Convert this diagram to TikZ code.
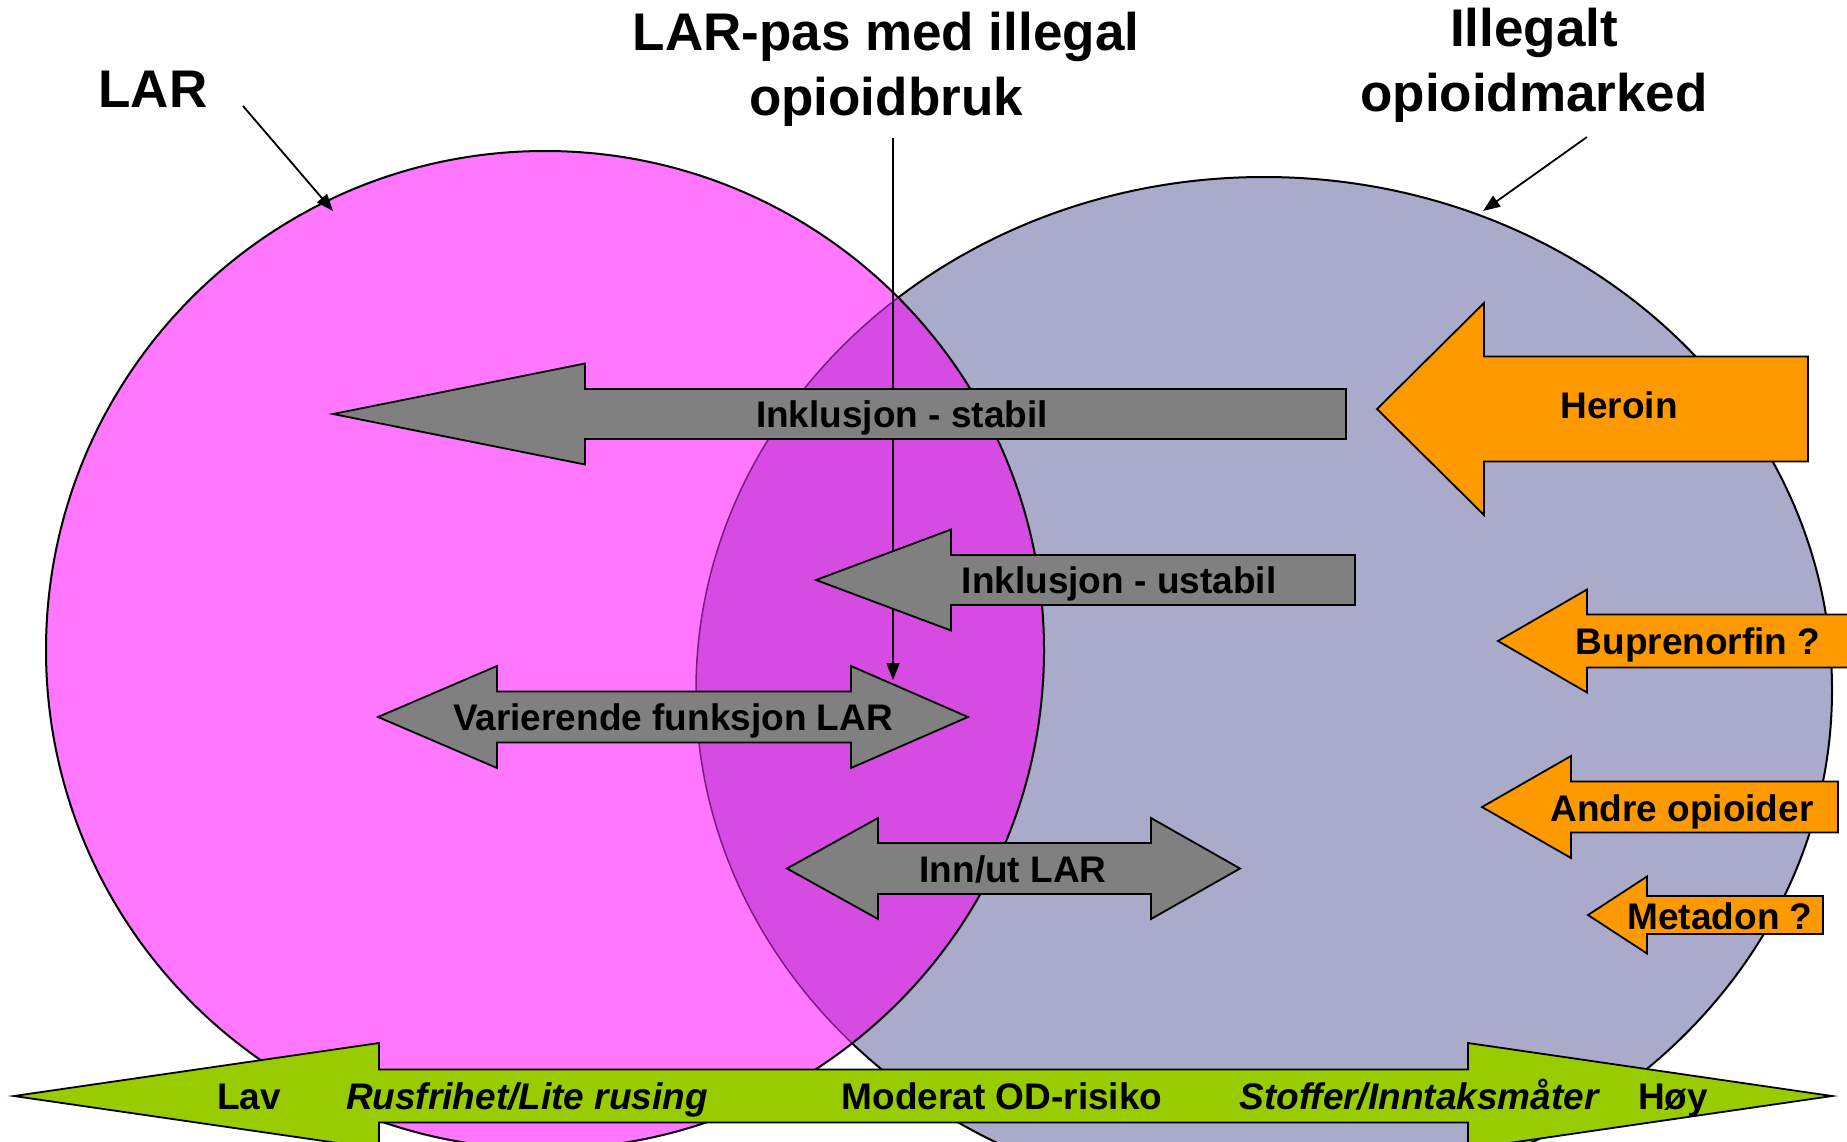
\documentclass[tikz,border=0pt]{standalone}
\usepackage{fontspec}
\setmainfont{Liberation Sans}
\usetikzlibrary{arrows.meta}

\definecolor{larpink}{HTML}{FF77FF}
\definecolor{marketgray}{HTML}{AAAACA}
\definecolor{overlapviolet}{HTML}{D64BE2}
\definecolor{overlapedge}{HTML}{7B1B86}
\definecolor{arrowgray}{HTML}{808080}
\definecolor{opioidorange}{HTML}{FF9900}
\definecolor{riskgreen}{HTML}{99CC00}

\tikzset{
  blockbase/.style={draw=black, line width=1.8pt, line join=miter},
  grayblock/.style={blockbase, fill=arrowgray},
  orangeblock/.style={blockbase, fill=opioidorange},
  greenblock/.style={blockbase, fill=riskgreen},
  lbl/.style={font=\fontsize{37}{44}\selectfont\bfseries, anchor=base, inner sep=0pt},
  lblit/.style={lbl, font=\fontsize{37}{44}\selectfont\bfseries\itshape},
  headline/.style={font=\fontsize{53}{65}\selectfont\bfseries, align=center, inner sep=0pt},
  pointer/.style={line width=1.8pt, -{Triangle[length=17pt,width=13pt]}},
}

% left-pointing block arrow: style, tip x, axis y, head back x, head half height, shaft half height, tail x
\newcommand{\leftblock}[7]{%
  \draw[#1] ({#2},{#3}) -- ({#4},{#3-#5}) -- ({#4},{#3-#6}) -- ({#7},{#3-#6})
    -- ({#7},{#3+#6}) -- ({#4},{#3+#6}) -- ({#4},{#3+#5}) -- cycle;}
% two-headed block arrow: style, axis y, left tip, left head back, right head back, right tip, head half, shaft half
\newcommand{\twoblock}[8]{%
  \draw[#1] ({#3},{#2}) -- ({#4},{#2-#7}) -- ({#4},{#2-#8}) -- ({#5},{#2-#8})
    -- ({#5},{#2-#7}) -- ({#6},{#2}) -- ({#5},{#2+#7}) -- ({#5},{#2+#8})
    -- ({#4},{#2+#8}) -- ({#4},{#2+#7}) -- cycle;}

\begin{document}
\begin{tikzpicture}[x=1pt, y=-1pt]
\clip (0,0) rectangle (1847,1141);
\fill[white] (0,0) rectangle (1847,1141);

% the two sets
\filldraw[fill=marketgray, draw=black, line width=2pt] (1264,690) ellipse[x radius=568pt, y radius=513pt];
\fill[larpink] (545,650) circle[radius=499pt];
\begin{scope}
  \clip (545,650) circle[radius=499pt];
  \fill[overlapviolet] (1264,690) ellipse[x radius=568pt, y radius=513pt];
  \draw[overlapedge, line width=1.5pt] (1264,690) ellipse[x radius=568pt, y radius=513pt];
\end{scope}
\draw[black, line width=2pt] (545,650) circle[radius=499pt];

% headings
\node[headline, anchor=base] (larT) at (153,107) {LAR};
\node[headline] (midT) at (886,69) {LAR-pas med illegal\\opioidbruk};
\node[headline] (mktT) at (1534,65) {Illegalt\\opioidmarked};

\coordinate (larFrom) at (243,106);
\coordinate (larTo) at (333,211);
\coordinate (midFrom) at (893,138);
\coordinate (midTo) at (893,680);
\coordinate (mktFrom) at (1587,137);
\coordinate (mktTo) at (1483,211);
\draw[pointer] (larFrom) -- (larTo);
\draw[pointer] (mktFrom) -- (mktTo);
\draw[pointer] (midFrom) -- (midTo);

% movements between the sets
\leftblock{grayblock}{333}{414}{585}{50.5}{25}{1346}
\node[lbl] (stabil) at (902,427) {Inklusjon - stabil};

\leftblock{grayblock}{816}{580}{951}{50.5}{25}{1355}
\node[lbl] (ustabil) at (1119,593) {Inklusjon - ustabil};

\twoblock{grayblock}{717}{378}{497}{851}{968}{51}{25.5}
\node[lbl] (varier) at (673,730) {Varierende funksjon LAR};

\twoblock{grayblock}{868.5}{787}{878}{1151}{1240}{50.5}{25.5}
\node[lbl] (innut) at (1013,882) {Inn/ut LAR};

% substances on the illegal market
\leftblock{orangeblock}{1377}{409}{1484}{106}{52.5}{1808}
\node[lbl] (heroin) at (1619,418) {Heroin};

\leftblock{orangeblock}{1498}{641}{1587}{51.5}{26.5}{1870}
\node[lbl] (bupre) at (1698,654) {Buprenorfin ?};

\leftblock{orangeblock}{1482}{807}{1571}{51}{25.5}{1838}
\node[lbl] (andre) at (1682,821) {Andre opioider};

\leftblock{orangeblock}{1588}{915}{1647}{38.5}{19}{1823}
\node[lbl] (metadon) at (1720,929) {Metadon ?};

% overdose risk scale
\twoblock{greenblock}{1096}{14}{379}{1468}{1832}{53}{26.5}
\node[lbl] (lav) at (249,1109) {Lav};
\node[lblit] (rus) at (527,1109) {Rusfrihet/Lite rusing};
\node[lbl] (mod) at (1002,1109) {Moderat OD-risiko};
\node[lblit] (stoff) at (1419,1109) {Stoffer/Inntaksmåter};
\node[lbl] (hoy) at (1673,1109) {Høy};
\end{tikzpicture}
\end{document}
